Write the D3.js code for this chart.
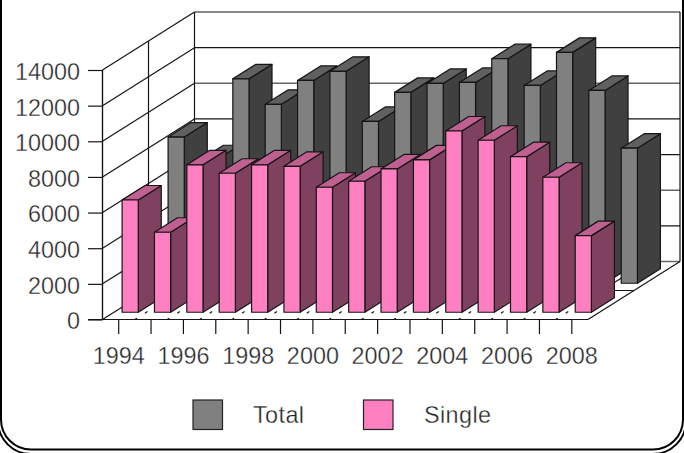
<!DOCTYPE html>
<html>
<head>
<meta charset="utf-8">
<script src="https://cdn.jsdelivr.net/npm/d3@7/dist/d3.min.js"></script>
<style>
  html, body { margin: 0; padding: 0; background: #fff; }
  svg { display: block; }
  text { font-family: "Liberation Sans", Arial, sans-serif; font-size: 23.4px; fill: #222; stroke: #fff; stroke-width: 0.35px; }
</style>
</head>
<body>
<svg id="chart" width="684" height="453"></svg>
<script>
// Yearly counts, one list per series
const years = [1994,1995,1996,1997,1998,1999,2000,2001,2002,2003,2004,2005,2006,2007,2008];
const totalValues = [8200,6930,11470,10040,11380,11890,9080,10710,11215,11270,12600,11100,12955,10820,7580];
const singleValues = [6300,4490,8270,7800,8270,8190,7015,7350,8040,8550,10170,9650,8730,7575,4300];
const yTicks = [0,2000,4000,6000,8000,10000,12000,14000];
const xLabels = [1994,1996,1998,2000,2002,2004,2006,2008];
const softGridTicks = [0,4000,10000];

const ink = "#151515";
const svg = d3.select("#chart");

const x = d3.scaleBand().domain(years).range([102.5, 588]);
const y = d3.scaleLinear().domain([0, 14000]).range([319.5, 70]);

// Oblique projection: depth runs 0..2 across the two series rows
const depthX = d3.scaleLinear().domain([0, 2]).range([0, 92]);
const depthY = d3.scaleLinear().domain([0, 2]).range([0, -58]);
const px = (xv, d) => xv + depthX(d);
const py = (yv, d) => yv + depthY(d);
const pt = (xv, yv, d) => [px(xv, d), py(yv, d)];
const poly = pts => pts.map(p => p.join(",")).join(" ");

const [x0, x1] = x.range();
const [yBase] = y.range();

// Outer frame: two nested rounded outlines
svg.append("rect").attr("x", 1).attr("y", -40).attr("width", 682).attr("height", 489.5)
  .attr("rx", 30).attr("ry", 30).attr("fill", "none").attr("stroke", "#000").attr("stroke-width", 2);
svg.append("rect").attr("x", -2).attr("y", -40).attr("width", 688).attr("height", 494)
  .attr("rx", 33).attr("ry", 33).attr("fill", "none").attr("stroke", "#000").attr("stroke-width", 2);

const grid = svg.append("g").attr("stroke", ink).attr("stroke-width", 1.2).attr("fill", "none");

// Back wall
grid.selectAll("line.back").data(yTicks).join("line").attr("class", "back")
  .attr("x1", px(x0, 2)).attr("x2", px(x1, 2))
  .attr("y1", d => py(y(d), 2)).attr("y2", d => py(y(d), 2))
  .attr("stroke", d => softGridTicks.includes(d) ? "#666" : ink)
  .attr("stroke-width", d => softGridTicks.includes(d) ? 1.6 : 1.2);
[x0, x1].forEach(v => grid.append("line")
  .attr("x1", px(v, 2)).attr("x2", px(v, 2))
  .attr("y1", py(y(0), 2)).attr("y2", py(y(14000), 2)));

// Left wall
grid.selectAll("line.side").data(yTicks).join("line").attr("class", "side")
  .attr("x1", x0).attr("x2", px(x0, 2))
  .attr("y1", d => y(d)).attr("y2", d => py(y(d), 2));
[0, 1].forEach(d => grid.append("line")
  .attr("x1", px(x0, d)).attr("x2", px(x0, d))
  .attr("y1", py(y(0), d)).attr("y2", py(y(14000), d)));

// Floor
grid.append("line").attr("x1", x1).attr("y1", yBase).attr("x2", px(x1, 2)).attr("y2", py(yBase, 2));
grid.append("line").attr("x1", px(x0, 1)).attr("y1", py(yBase, 1)).attr("x2", px(x1, 1)).attr("y2", py(yBase, 1));
grid.selectAll("line.floor").data(years.slice(1)).join("line").attr("class", "floor")
  .attr("x1", d => x(d)).attr("y1", yBase)
  .attr("x2", d => px(x(d), 2)).attr("y2", py(yBase, 2))
  .attr("stroke-dasharray", "2.5 9.4 3 52 12 1000");

// One row of 3D columns; later columns overlap the sides of earlier ones
function drawRow(values, depth, colors) {
  const w = x.bandwidth();
  const bars = svg.append("g").selectAll("g").data(values).join("g")
    .attr("stroke", ink).attr("stroke-width", 1.2).attr("stroke-linejoin", "round");
  const dn = depth + 0.25, df = depth + 0.75;
  const l = (d, i) => x(years[i]) + w / 4, r = (d, i) => x(years[i]) + w * 3 / 4;
  bars.append("polygon").attr("fill", colors.side).attr("points", (d, i) => poly([
    pt(r(d, i), y(0), dn), pt(r(d, i), y(0), df), pt(r(d, i), y(d), df), pt(r(d, i), y(d), dn)]));
  bars.append("polygon").attr("fill", colors.top).attr("points", (d, i) => poly([
    pt(l(d, i), y(d), dn), pt(r(d, i), y(d), dn), pt(r(d, i), y(d), df), pt(l(d, i), y(d), df)]));
  bars.append("polygon").attr("fill", colors.front).attr("points", (d, i) => poly([
    pt(l(d, i), y(0), dn), pt(r(d, i), y(0), dn), pt(r(d, i), y(d), dn), pt(l(d, i), y(d), dn)]));
}
const totalColors = { front: "#808080", side: "#404040", top: "#606060" };
const singleColors = { front: "#FF80C0", side: "#804060", top: "#C06090" };
drawRow(totalValues, 1, totalColors);
drawRow(singleValues, 0, singleColors);

// Axes
const yAxis = d3.axisLeft(y).tickValues(yTicks).tickSize(14.5).tickPadding(8).tickFormat(d3.format("d"));
const xAxis = d3.axisBottom(x).tickSize(14.5).tickPadding(13)
  .tickFormat(d => xLabels.includes(d) ? d : "");

const gy = svg.append("g").attr("transform", `translate(${x0},0)`).call(yAxis);
const gx = svg.append("g").attr("transform", `translate(0,${yBase})`).call(xAxis);
[gy, gx].forEach(g => {
  g.selectAll("line").attr("stroke", ink).attr("stroke-width", 1.2);
  g.selectAll("text").attr("fill", "#222").style("font-size", "23.4px");
  g.select(".domain").remove();
});
gy.selectAll("text").attr("dy", "0.4em");
svg.append("line").attr("x1", x0 - 14.5).attr("x2", x1).attr("y1", yBase).attr("y2", yBase)
  .attr("stroke", ink).attr("stroke-width", 1.2);
svg.append("line").attr("x1", x0).attr("x2", x0).attr("y1", yBase).attr("y2", y(14000))
  .attr("stroke", ink).attr("stroke-width", 1.2);

// Legend
const legendItems = [
  { name: "Total", color: totalColors.front, bx: 193, tx: 253 },
  { name: "Single", color: singleColors.front, bx: 363.5, tx: 424 }
];
const lg = svg.append("g").selectAll("g").data(legendItems).join("g");
lg.append("rect").attr("x", d => d.bx).attr("y", 400).attr("width", 29.5).attr("height", 29.5)
  .attr("fill", d => d.color).attr("stroke", "#222").attr("stroke-width", 1.2);
lg.append("text").attr("x", d => d.tx).attr("y", 423).attr("letter-spacing", 0.4).text(d => d.name);
</script>
</body>
</html>
